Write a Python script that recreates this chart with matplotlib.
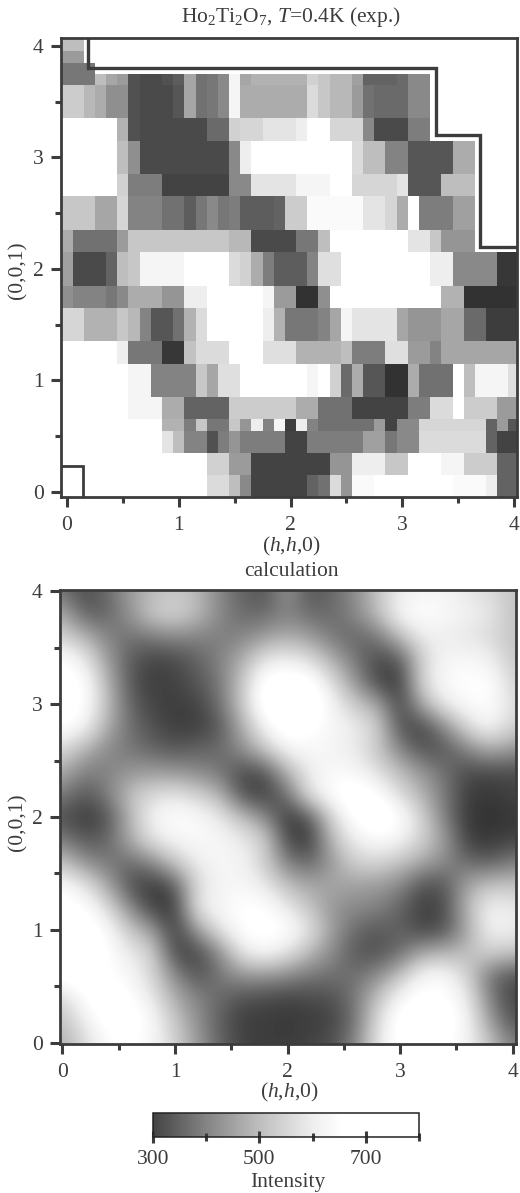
import numpy as np
import matplotlib
matplotlib.use("Agg")
import matplotlib.pyplot as plt
from matplotlib.colors import LinearSegmentedColormap, Normalize
from matplotlib.cm import ScalarMappable

plt.rcParams['font.family'] = ['Liberation Serif', 'DejaVu Serif']
plt.rcParams['mathtext.fontset'] = 'custom'
plt.rcParams['mathtext.rm'] = 'Liberation Serif'
plt.rcParams['mathtext.it'] = 'Liberation Serif:italic'

W, H = 520, 1193
INK = '#3c3c3c'
FS = 15.5

# ---- experiment: intensity / 10, one row per band, h = 0, 0.1 ... 4.0
exp_h_edges = [-0.05 + 0.1 * i for i in range(42)]
exp_l_edges = [4.1, 3.95, 3.85, 3.75, 3.65, 3.35, 3.15, 2.85, 2.65, 2.35, 2.15,
               1.85, 1.65, 1.35, 1.15, 0.85, 0.65, 0.55, 0.35, 0.15, -0.05]
exp_rows = [
    [50, 50] + [80] * 39,
    [44, 44] + [80] * 39,
    [38, 38, 38] + [80] * 38,
    [38, 38, 38, 50, 46, 44, 32, 31, 31, 32, 34, 46, 37, 38, 41, 62, 46, 48, 48, 48,
     48, 48, 54, 52, 49, 49, 45, 35, 35, 35, 36, 41, 41] + [80] * 8,
    [53, 53, 49, 47, 42, 42, 32, 31, 31, 31, 33, 46, 37, 38, 41, 62, 47, 47, 47, 47,
     47, 47, 56, 52, 49, 49, 44, 37, 36, 36, 36, 41, 41] + [80] * 8,
    [80, 78, 72, 75, 66, 48, 32, 31, 31, 31, 31, 31, 31, 36, 36, 54, 55, 55, 58, 58,
     58, 60, 66, 66, 55, 55, 55, 41, 31, 31, 31, 39, 39] + [80] * 8,
    [80, 80, 80, 80, 72, 50, 42, 31, 31, 31, 31, 31, 31, 31, 31, 41, 60, 75, 80, 80,
     80, 80, 80, 78, 75, 68, 56, 50, 50, 40, 40, 33, 33, 33, 33, 47, 47] + [80] * 4,
    [78, 78, 78, 78, 72, 54, 39, 39, 39, 30, 30, 30, 30, 30, 30, 41, 41, 58, 58, 58,
     58, 62, 62, 62, 66, 66, 55, 55, 55, 55, 58, 33, 33, 33, 50, 50, 50] + [80] * 4,
    [52, 52, 52, 46, 46, 55, 40, 40, 40, 37, 37, 34, 38, 41, 38, 39, 34, 34, 34, 35,
     53, 53, 64, 64, 64, 64, 64, 58, 58, 55, 47, 80, 39, 39, 39, 45, 45] + [80] * 4,
    [47, 37, 37, 37, 37, 44, 52, 52, 52, 52, 52, 52, 52, 52, 52, 49, 49, 31, 31, 31,
     31, 38, 38, 50, 78, 78, 78, 78, 78, 78, 78, 58, 58, 52, 43, 43, 43, 80, 80, 80, 80],
    [45, 31, 31, 31, 35, 50, 52, 62, 62, 62, 62, 66, 66, 66, 66, 56, 54, 47, 39, 34,
     34, 34, 40, 57, 57, 80, 80, 80, 80, 80, 80, 80, 80, 60, 60, 41, 41, 41, 41, 28, 28],
    [42, 40, 40, 40, 38, 41, 47, 47, 47, 43, 43, 60, 60, 80, 80, 80, 72, 72, 62, 44,
     44, 27, 27, 42, 68, 68, 80, 80, 80, 80, 68, 68, 68, 68, 48, 48, 27, 27, 27, 27, 27],
    [55, 55, 48, 48, 48, 52, 49, 40, 33, 33, 37, 48, 56, 75, 75, 75, 75, 75, 60, 48,
     38, 38, 38, 40, 46, 62, 58, 58, 58, 58, 46, 43, 43, 43, 46, 46, 36, 36, 29, 29, 29],
    [78, 78, 78, 78, 78, 60, 38, 38, 38, 28, 28, 51, 56, 56, 56, 75, 75, 75, 57, 57,
     57, 48, 48, 48, 48, 50, 39, 39, 39, 57, 57, 44, 44, 40, 46, 46, 46, 46, 46, 46, 46],
    [80, 80, 80, 80, 80, 80, 62, 62, 40, 40, 40, 40, 52, 46, 57, 57, 80, 80, 80, 80,
     80, 66, 62, 68, 54, 36, 47, 33, 33, 27, 27, 47, 37, 37, 37, 78, 50, 62, 62, 62, 57],
    [80, 80, 80, 80, 80, 80, 62, 62, 62, 47, 47, 35, 35, 35, 35, 53, 53, 53, 53, 53,
     53, 47, 47, 37, 37, 37, 30, 30, 30, 30, 30, 39, 39, 56, 56, 66, 53, 53, 53, 44, 44],
    [80, 80, 80, 80, 80, 80, 80, 80, 80, 48, 48, 39, 52, 38, 38, 52, 43, 60, 40, 62,
     29, 60, 40, 37, 37, 37, 37, 37, 44, 30, 41, 41, 55, 55, 55, 55, 55, 55, 35, 44, 33],
    [72, 66, 78, 78, 78, 78, 78, 78, 78, 58, 50, 40, 40, 32, 39, 43, 39, 39, 39, 39,
     30, 30, 39, 39, 39, 39, 39, 45, 45, 38, 41, 41, 56, 56, 56, 56, 56, 56, 35, 30, 30],
    [80, 80, 80, 80, 80, 80, 80, 80, 80, 80, 80, 80, 72, 54, 54, 44, 44, 30, 30, 30,
     30, 30, 30, 30, 43, 43, 60, 60, 60, 52, 52, 80, 80, 80, 62, 62, 53, 53, 53, 35, 35],
    [78, 78, 78, 78, 78, 78, 78, 78, 78, 78, 78, 78, 78, 56, 56, 50, 41, 30, 30, 30,
     30, 30, 35, 37, 56, 43, 64, 64, 72, 72, 80, 80, 80, 80, 80, 64, 64, 64, 60, 35, 35],
]

# outline of the measured region and the small box at the origin
region_h = [0.185, 0.185, 3.3, 3.3, 3.7, 3.7, 4.03]
region_l = [4.07, 3.8, 3.8, 3.2, 3.2, 2.2, 2.2]
box_h = [-0.05, 0.14, 0.14]
box_l = [0.23, 0.23, -0.045]

# ---- calculation: intensity / 10, l = 4.0 ... 0.0, h = 0 ... 4.0 in steps of 0.2
calc_rows = [
    [37, 31, 36, 44, 49, 52, 49, 40, 35, 32, 44, 32, 36, 41, 51, 60, 62, 62, 58, 56, 51],
    [47, 34, 35, 43, 53, 55, 50, 41, 36, 36, 40, 36, 36, 41, 50, 63, 66, 64, 61, 59, 51],
    [54, 48, 40, 37, 39, 41, 40, 39, 40, 44, 47, 44, 38, 35, 38, 50, 60, 60, 58, 56, 51],
    [66, 59, 44, 34, 30, 31, 35, 40, 47, 58, 60, 56, 47, 38, 31, 33, 54, 63, 63, 61, 52],
    [68, 66, 48, 33, 29, 30, 33, 38, 52, 68, 70, 68, 56, 43, 30, 28, 56, 64, 66, 66, 54],
    [70, 66, 50, 35, 30, 29, 30, 37, 52, 70, 72, 72, 62, 52, 46, 29, 47, 60, 64, 66, 56],
    [66, 62, 47, 37, 32, 29, 29, 33, 47, 62, 70, 66, 63, 60, 54, 32, 30, 41, 56, 63, 54],
    [56, 48, 41, 38, 35, 33, 35, 36, 42, 52, 62, 64, 62, 59, 52, 40, 32, 33, 40, 47, 43],
    [47, 39, 40, 43, 44, 43, 41, 38, 31, 32, 48, 60, 64, 63, 57, 50, 43, 37, 31, 31, 31],
    [39, 33, 39, 51, 56, 58, 54, 48, 31, 29, 37, 58, 66, 70, 66, 56, 48, 38, 29, 28, 30],
    [32, 28, 32, 48, 62, 66, 64, 59, 50, 41, 28, 33, 55, 67, 72, 66, 54, 39, 28, 27, 28],
    [39, 33, 35, 47, 58, 62, 64, 63, 59, 54, 30, 28, 50, 60, 64, 62, 54, 44, 29, 28, 30],
    [51, 42, 38, 36, 41, 52, 60, 63, 62, 53, 39, 35, 44, 54, 55, 51, 46, 41, 36, 34, 39],
    [64, 58, 46, 32, 28, 33, 56, 62, 63, 59, 50, 46, 46, 45, 44, 41, 32, 33, 46, 51, 51],
    [68, 66, 56, 41, 29, 28, 59, 63, 66, 66, 59, 51, 43, 41, 40, 35, 29, 31, 49, 62, 59],
    [70, 70, 64, 52, 44, 28, 44, 58, 66, 68, 66, 58, 44, 36, 33, 35, 30, 32, 46, 62, 60],
    [70, 70, 66, 59, 54, 30, 30, 41, 59, 63, 58, 49, 41, 33, 32, 36, 46, 48, 50, 54, 51],
    [68, 70, 66, 63, 55, 41, 32, 38, 43, 43, 41, 38, 37, 37, 41, 51, 63, 64, 54, 37, 32],
    [55, 66, 70, 66, 59, 47, 40, 36, 32, 31, 30, 31, 32, 38, 51, 63, 67, 66, 60, 39, 30],
    [51, 60, 68, 70, 63, 52, 42, 34, 29, 29, 28, 29, 30, 37, 56, 68, 72, 70, 62, 44, 32],
    [47, 56, 64, 66, 63, 54, 44, 35, 30, 29, 29, 30, 32, 40, 58, 68, 70, 66, 62, 51, 39],
]

tick_major = [0, 1, 2, 3, 4]
tick_minor = [0.5, 1.5, 2.5, 3.5]

# intensity of the colorbar, and the gray each intensity prints as
cbar_major = [300, 500, 700]
cbar_minor = [400, 600, 800]
gray_at = [(270, 50), (300, 68), (400, 132), (500, 190), (600, 238), (655, 255), (800, 255)]

vmin, vmax = gray_at[0][0], gray_at[-1][0]
cmap = LinearSegmentedColormap.from_list(
    'print', [((v - vmin) / (vmax - vmin), (g / 255,) * 3) for v, g in gray_at])
norm = Normalize(vmin, vmax)


def box_axes(fig, left, top, right, bottom):
    # frame given in pixels from the top left of the figure
    return fig.add_axes([left / W, 1 - bottom / H, (right - left) / W, (bottom - top) / H])


def style_panel(ax):
    ax.set_xticks(tick_major)
    ax.set_yticks(tick_major)
    ax.set_xticks(tick_minor, minor=True)
    ax.set_yticks(tick_minor, minor=True)
    ax.tick_params(which='major', length=7.5, width=2.2, color=INK, labelcolor=INK,
                   labelsize=FS, pad=6)
    ax.tick_params(which='minor', length=4, width=2.2, color=INK)
    ax.tick_params(axis='y', which='major', length=7, pad=5.5)
    for s in ax.spines.values():
        s.set_linewidth(2.0)
        s.set_color(INK)


def px_text(fig, x, y, s, **kw):
    fig.text(x / W, 1 - y / H, s, ha='center', va='center', color=INK, fontsize=FS, **kw)


fig = plt.figure(figsize=(W / 100, H / 100), dpi=100)

# experiment panel
ax1 = box_axes(fig, 61, 38, 517, 497)
ax1.pcolormesh(exp_h_edges, exp_l_edges, np.array(exp_rows) * 10, cmap=cmap, norm=norm)
ax1.plot(region_h, region_l, color=INK, lw=2.4, solid_joinstyle='miter')
ax1.plot(box_h, box_l, color=INK, lw=2.0, solid_joinstyle='miter')
ax1.set_xlim(-0.054, 4.027)
ax1.set_ylim(-0.045, 4.07)
style_panel(ax1)

# calculation panel
ax2 = box_axes(fig, 60, 590, 516, 1044)
ax2.imshow(np.array(calc_rows) * 10, cmap=cmap, norm=norm, aspect='auto',
           extent=[-0.1, 4.1, -0.1, 4.1], interpolation='bicubic', interpolation_stage='data')
ax2.set_xlim(-0.022, 4.03)
ax2.set_ylim(-0.009, 4.009)
style_panel(ax2)

# intensity bar
cax = box_axes(fig, 153, 1113, 419, 1137)
cb = fig.colorbar(ScalarMappable(norm=norm, cmap=cmap), cax=cax, orientation='horizontal')
cb.ax.set_xlim(300, 800)
cb.set_ticks(cbar_major)
cb.ax.set_xticks(cbar_minor, minor=True)
cb.ax.tick_params(which='major', length=8, width=2.2, color=INK, labelcolor=INK,
                  labelsize=FS, direction='inout', pad=5.5)
cb.ax.tick_params(which='minor', length=6, width=2.2, color=INK, direction='inout')
cb.outline.set_linewidth(1.1)
cb.outline.set_edgecolor('#222222')

px_text(fig, 291, 17, r'Ho$_2$Ti$_2$O$_7$, $T$=0.4K (exp.)')
px_text(fig, 291, 546, r'($h$,$h$,0)')
px_text(fig, 18, 270, '(0,0,1)', rotation=90)
px_text(fig, 291, 572, 'calculation')
px_text(fig, 289, 1092, r'($h$,$h$,0)')
px_text(fig, 18, 822, '(0,0,1)', rotation=90)
px_text(fig, 288, 1182, 'Intensity')

fig.savefig('out.png', dpi=100)
